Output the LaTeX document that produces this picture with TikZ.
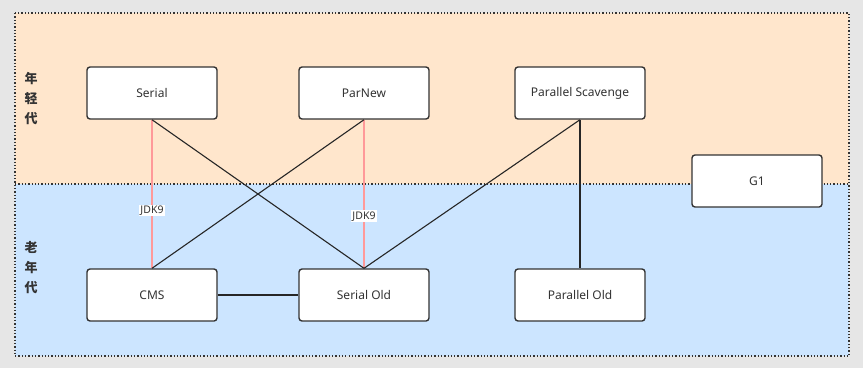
\documentclass[tikz,border=0pt]{standalone}
\usepackage{fontspec}
\setmainfont{Noto Sans}
\newfontfamily\cjk{Noto Sans CJK SC}
\usetikzlibrary{positioning}
\definecolor{bgray}{HTML}{E6E6E6}
\definecolor{young}{HTML}{FFE6CC}
\definecolor{old}{HTML}{CCE5FF}
\definecolor{jdk}{HTML}{FF9999}
\definecolor{ink}{HTML}{333333}

\begin{document}
\begin{tikzpicture}[
    x=1pt, y=-1pt,
    gc/.style={rectangle, draw=ink, fill=white, line width=1.4pt, rounded corners=3pt,
        minimum width=130pt, minimum height=52pt, inner sep=0pt, text=ink,
        font=\fontsize{12}{14}\selectfont},
    link/.style={draw=black!85, line width=1.1pt},
    removed/.style={draw=jdk, line width=1.3pt},
    tag/.style={fill=white, inner sep=1pt, text=ink, font=\fontsize{10.5}{12}\selectfont},
    zone/.style={font=\cjk\bfseries\fontsize{13}{20}\selectfont, text=ink, align=center}
]
\fill[bgray] (0,0) rectangle (863,368);
\useasboundingbox (0,0) rectangle (863,368);
% generations
\fill[young] (15,13) rectangle (849,184);
\fill[old] (15,184) rectangle (849,356);
\draw[ink, line width=1.3pt, dotted] (15,184) -- (849,184);
\draw[ink, line width=1.3pt, dotted] (15,13) rectangle (849,356);
\node[zone] (yg) at (31,99) {年\\轻\\代};
\node[zone] (og) at (31,268) {老\\年\\代};
% collectors
\node[gc] (serial) at (152,93) {Serial};
\node[gc] (parnew) at (364,93) {ParNew};
\node[gc] (ps) at (580,93) {Parallel Scavenge};
\node[gc] (cms) at (152,295) {CMS};
\node[gc] (sold) at (364,295) {Serial Old};
\node[gc] (pold) at (580,295) {Parallel Old};
% combinations
\draw[removed] (serial.south) -- node[tag, pos=0.61] {JDK9} (cms.north);
\draw[removed] (parnew.south) -- node[tag, pos=0.65] {JDK9} (sold.north);
\draw[link] (serial.south) -- (sold.north);
\draw[link] (parnew.south) -- (cms.north);
\draw[link] (ps.south) -- (sold.north);
\draw[link] (ps.south) -- (pold.north);
\draw[link] (cms.east) -- (sold.west);
\node[gc] (g1) at (757,181) {G1};
\end{tikzpicture}
\end{document}
